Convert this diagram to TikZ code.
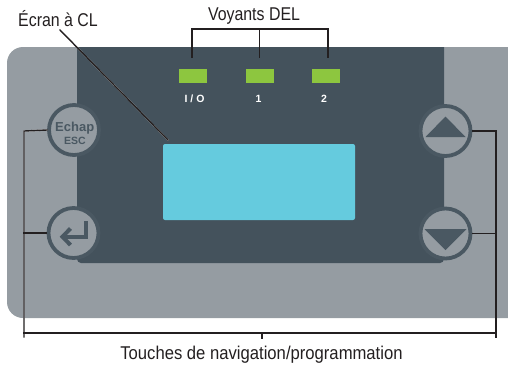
\documentclass[tikz,border=0pt]{standalone}
\usepackage{fontspec}
\setmainfont{Liberation Sans}
\newfontfamily\condfont[FakeStretch=0.86]{Liberation Sans}
\newfontfamily\condfontw[FakeStretch=0.9]{Liberation Sans}
\usetikzlibrary{calc}

\definecolor{panelgray}{RGB}{149,156,162}
\definecolor{paneldark}{RGB}{68,82,92}
\definecolor{lcdblue}{RGB}{101,203,222}
\definecolor{ledgreen}{RGB}{141,198,63}
\definecolor{ringcol}{RGB}{74,88,98}
\definecolor{labelink}{RGB}{35,31,32}

\newcommand\mydoubleline[1]{%
  \draw[halo,shift={(-1,-1)}] #1;
  \draw[leader] #1;}

\begin{document}
\begin{tikzpicture}[x=1pt,y=-1pt,
  btn/.style={circle, draw=ringcol, line width=3.8pt, fill=panelgray, minimum size=50pt, inner sep=0pt},
  led/.style={rectangle, fill=ledgreen, minimum width=28pt, minimum height=14pt, inner sep=0pt},
  lcd/.style={rectangle, fill=lcdblue, rounded corners=2pt, minimum width=192pt, minimum height=76pt, inner sep=0pt},
  ledlabel/.style={text=white, inner sep=0pt, font=\bfseries\fontsize{10.5}{10.5}\selectfont},
  btntext/.style={text=ringcol, inner sep=0pt, anchor=base},
  callout/.style={text=labelink, inner sep=0pt, anchor=base, font=\condfont\fontsize{18.5}{18.5}\selectfont},
  leader/.style={draw=labelink, line width=1.4pt, line cap=rect},
  halo/.style={draw=white, line width=1.3pt, line cap=rect},
  glyph/.style={draw=ringcol, line width=4pt},
]
\useasboundingbox (0,0) rectangle (508,365);
\clip (0,0) rectangle (508,365);

% panels
\fill[panelgray, rounded corners=16pt] (7,47) rectangle (540,318);
\begin{scope}
  \clip (0,47) rectangle (508,365);
  \fill[paneldark, rounded corners=4pt] (77,40) rectangle (444,263);
\end{scope}

% display and LEDs
\node[lcd] (lcd) at (259,182) {};
\node[led] (led0) at (193,76) {};
\node[led] (led1) at (260,76) {};
\node[led] (led2) at (326,76) {};
\node[ledlabel] (lab0) at (194.5,98.7) {I\hspace{3pt}/\hspace{3pt}O};
\node[ledlabel] (lab1) at (258.5,98.7) {1};
\node[ledlabel] (lab2) at (324,98.7) {2};

% buttons
\node[btn] (esc) at (74,130) {};
\node[btntext, font=\bfseries\fontsize{13}{13}\selectfont] (escA) at (74.7,131.3) {Echap};
\node[btntext, font=\bfseries\fontsize{10.5}{10.5}\selectfont] (escB) at (75,144.7) {ESC};
\node[btn] (enter) at (73.5,233) {};
\node[btn] (up) at (445.5,131) {};
\node[btn] (down) at (445.5,233.5) {};

\begin{scope}[shift={(enter.center)}]
  \draw[glyph] (12,-12) -- (12,4) -- (-10,4);
  \draw[glyph, line join=miter] (-3,-4.5) -- (-11,3.7) -- (-3,12);
\end{scope}
\begin{scope}[shift={(up.center)}]
  \fill[ringcol] (0,-14.5) -- (20,6) -- (-20,6) -- cycle;
\end{scope}
\begin{scope}[shift={(down.center)}]
  \fill[ringcol] (-21,-4.5) -- (21,-4.5) -- (0,16.5) -- cycle;
\end{scope}

% labels
\node[callout] (tDEL) at (254,20.7) {Voyants DEL};
\node[callout] (tLCD) at (58,26) {Écran à CL};
\node[callout, font=\condfontw\fontsize{18.5}{18.5}\selectfont] (tNav) at (261.5,359) {Touches de navigation/programmation};

% leader coordinates
\coordinate (d0) at (192,57);
\coordinate (d1) at (259.5,57);
\coordinate (d2) at (328,57);
\coordinate (b0) at (192,29);
\coordinate (b1) at (259.5,29);
\coordinate (b2) at (328,29);
\coordinate (cs) at (60,30);
\coordinate (ce) at (168,140);
\coordinate (lt) at (24,131);
\coordinate (lm) at (24,233);
\coordinate (lb) at (24,337);
\coordinate (hl) at (24,333);
\coordinate (hr) at (496,333);
\coordinate (hc) at (262,333);
\coordinate (hct) at (262,338);
\coordinate (rt) at (496,131);
\coordinate (rm) at (496,233.5);
\coordinate (rb) at (496,337);

% connectors
\mydoubleline{(d0) -- (b0) -- (b2) -- (d2)}
\mydoubleline{(b1) -- (d1)}
\mydoubleline{(cs) -- (ce)}
\mydoubleline{(esc.west) -- (lt) -- (lb)}
\mydoubleline{(enter.west) -- (lm)}
\mydoubleline{(hl) -- (hr)}
\mydoubleline{(hc) -- (hct)}
\mydoubleline{(up.east) -- (rt) -- (rb)}
\mydoubleline{(down.east) -- (rm)}
\end{tikzpicture}
\end{document}
